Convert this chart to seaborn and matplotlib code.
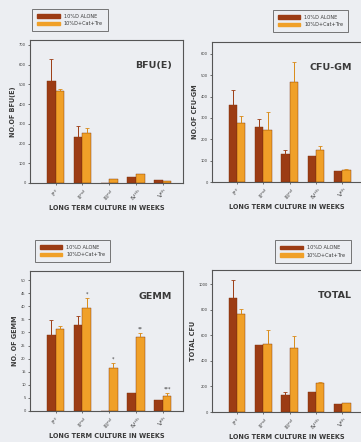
import numpy as np
import pandas as pd
import matplotlib
matplotlib.use("Agg")
import matplotlib.pyplot as plt
import seaborn as sns

# Culture weeks and treatment groups
weeks = [r"I$^{st}$", r"II$^{nd}$", r"III$^{rd}$", r"IV$^{th}$", r"V$^{th}$"]
groups = ["10%D ALONE", "10%D+Cat+Tre"]

# BFU(E) colony counts (mean, upper error)
bfu_alone = [515, 235, 0, 30, 14]
bfu_alone_err = [112, 55, 0, 0, 0]
bfu_cat = [465, 252, 18, 44, 9]
bfu_cat_err = [12, 26, 0, 0, 0]

# CFU-GM colony counts
cfu_alone = [361, 257, 129, 123, 50]
cfu_alone_err = [70, 36, 22, 0, 0]
cfu_cat = [277, 245, 467, 150, 58]
cfu_cat_err = [34, 82, 94, 18, 3]

# GEMM colony counts
gemm_alone = [28.9, 32.7, 0, 7.0, 4.1]
gemm_alone_err = [6.0, 3.6, 0, 0, 0]
gemm_cat = [31.4, 39.4, 16.3, 28.2, 5.7]
gemm_cat_err = [0.9, 3.9, 2.0, 1.6, 1.3]
gemm_marks = ["", "*", "*", "**", "***"]

# Total CFU
total_alone = [895, 521, 132, 158, 66]
total_alone_err = [139, 0, 21, 0, 0]
total_cat = [766, 529, 500, 224, 68]
total_cat_err = [37, 116, 92, 13, 0]

DARK = "#9c3c14"
LIGHT = "#f0a028"
BG = "#eceef2"
INK = "#3a3a3a"

sns.set_theme(style="white")
plt.rcParams["font.family"] = ["DejaVu Sans"]

fig = plt.figure(figsize=(3.61, 4.42), dpi=100)
fig.patch.set_facecolor(BG)

W, H = 361.0, 442.0


def frac_rect(x0, y0, x1, y1):
    return [x0 / W, 1 - y1 / H, (x1 - x0) / W, (y1 - y0) / H]


panels = [
    dict(rect=frac_rect(30, 40, 183, 183), alone=bfu_alone, ae=bfu_alone_err,
         cat=bfu_cat, ce=bfu_cat_err, title="BFU(E)", ylabel="NO.OF BFU(E)",
         ticks=np.arange(0, 701, 100), ylim=725, leg=(30, 7, 110, 33), marks=None),
    dict(rect=frac_rect(212, 42, 362, 182), alone=cfu_alone, ae=cfu_alone_err,
         cat=cfu_cat, ce=cfu_cat_err, title="CFU-GM", ylabel="NO.OF CFU-GM",
         ticks=np.arange(0, 601, 100), ylim=655, leg=(268, 6, 353, 36), marks=None),
    dict(rect=frac_rect(30, 271, 183, 411), alone=gemm_alone, ae=gemm_alone_err,
         cat=gemm_cat, ce=gemm_cat_err, title="GEMM", ylabel="NO. OF GEMM",
         ticks=np.arange(0, 51, 5), ylim=53.5, leg=(31, 237, 114, 265), marks=gemm_marks),
    dict(rect=frac_rect(212, 270, 362, 412), alone=total_alone, ae=total_alone_err,
         cat=total_cat, ce=total_cat_err, title="TOTAL", ylabel="TOTAL CFU",
         ticks=np.arange(0, 1001, 200), ylim=1112, leg=(268, 238, 358, 265), marks=None),
]

for p in panels:
    ax = fig.add_axes(p["rect"])
    ax.set_facecolor(BG)
    df = pd.DataFrame({
        "week": weeks * 2,
        "group": [groups[0]] * 5 + [groups[1]] * 5,
        "value": p["alone"] + p["cat"],
    })
    sns.barplot(data=df, x="week", y="value", hue="group", order=weeks,
                hue_order=groups, palette=[DARK, LIGHT], width=0.64,
                errorbar=None, ax=ax, legend=False, saturation=1,
                edgecolor="#7a2e08", linewidth=0.3)

    # one-sided error bars on top of each bar
    for cont, vals, errs, col in zip(ax.containers, [p["alone"], p["cat"]],
                                     [p["ae"], p["ce"]], [DARK, "#d98a18"]):
        xs = [b.get_x() + b.get_width() / 2 for b in cont]
        ax.errorbar(xs, vals, yerr=[np.zeros(len(errs)), errs], fmt="none",
                    ecolor=col, elinewidth=0.7, capsize=1.2, capthick=0.6)
        if p["marks"] is not None and col != DARK:
            for x, v, e, m in zip(xs, vals, errs, p["marks"]):
                if m:
                    ax.text(x, v + e + p["ylim"] * 0.01, m, ha="center",
                            va="bottom", fontsize=3.5, color=INK)

    ax.set_xlim(-0.95, 4.75)
    ax.set_ylim(0, p["ylim"])
    ax.set_yticks(p["ticks"])
    ax.set_yticklabels([str(t) for t in p["ticks"]], fontsize=2.6, color=INK)
    ax.set_xticks(range(5))
    ax.set_xticklabels(weeks, fontsize=4.6, rotation=45, color=INK)
    ax.tick_params(axis="both", length=1.5, width=0.5, pad=1.5, colors=INK,
                   left=True, bottom=True)
    ax.set_xlabel("LONG TERM CULTURE IN WEEKS", fontsize=4.7,
                  fontweight="bold", color=INK, labelpad=2)
    ax.set_ylabel(p["ylabel"], fontsize=4.7, fontweight="bold", color=INK,
                  labelpad=2)
    for s in ax.spines.values():
        s.set_color("#555555")
        s.set_linewidth(0.8)
    ax.text(0.93, 0.82, p["title"], transform=ax.transAxes, ha="right",
            va="center", fontsize=6.8, fontweight="bold", color=INK)

    # legend box in figure coordinates
    x0, y0, x1, y1 = p["leg"]
    handles = [plt.Rectangle((0, 0), 1, 1, color=DARK),
               plt.Rectangle((0, 0), 1, 1, color=LIGHT)]
    leg = fig.legend(handles, groups, loc="center",
                     bbox_to_anchor=((x0 + x1) / 2 / W, 1 - (y0 + y1) / 2 / H),
                     fontsize=3.6, frameon=True, fancybox=False,
                     handlelength=4.5, handleheight=0.7, handletextpad=0.8,
                     borderpad=1.0, labelspacing=0.45, labelcolor=INK)
    leg.get_frame().set_edgecolor("#555555")
    leg.get_frame().set_linewidth(0.7)
    leg.get_frame().set_facecolor(BG)

fig.savefig("out.png", dpi=100, facecolor=BG)
